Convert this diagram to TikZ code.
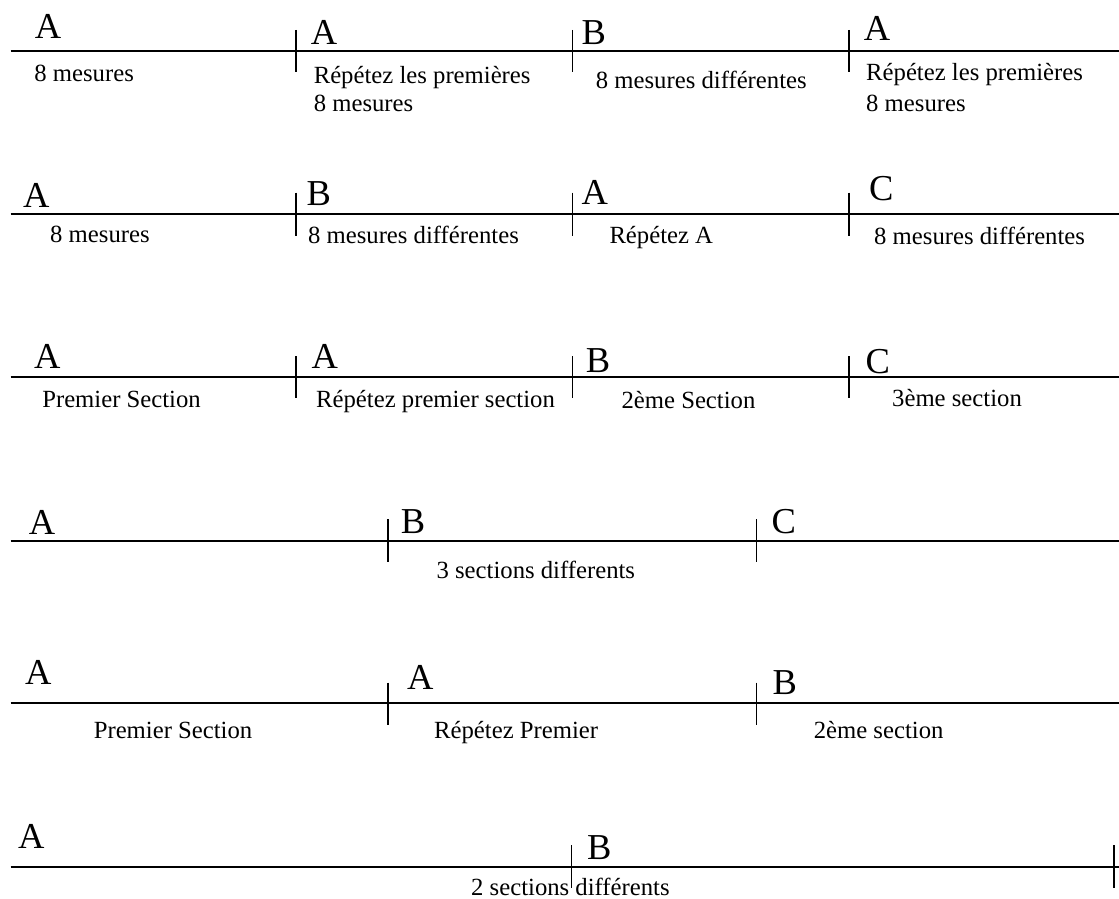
\documentclass[tikz,border=0pt]{standalone}
\usepackage{fontspec}
\setmainfont{Liberation Serif}
\begin{document}
\begin{tikzpicture}[x=1pt,y=-1pt,
  rule/.style={line width=2pt},
  tickmark/.style={line width=1.7pt},
  letter/.style={anchor=base west,inner sep=0pt,font=\fontsize{36.5}{42}\selectfont},
  lab/.style={anchor=base west,inner sep=0pt,font=\fontsize{24.7}{30}\selectfont}]
\useasboundingbox (0,0) rectangle (1119,899);

% ---------- Row 1 ----------
\coordinate (r1s) at (10.7,51);
\coordinate (r1e) at (1119,51);
\draw[rule] (r1s) -- (r1e);
\coordinate (t11a) at (295.7,30); \coordinate (t11b) at (295.7,71.7);
\coordinate (t12a) at (572.5,30); \coordinate (t12b) at (572.5,71.7);
\coordinate (t13a) at (849.3,30); \coordinate (t13b) at (849.3,71.7);
\draw[tickmark] (t11a) -- (t11b);
\draw[tickmark] (t12a) -- (t12b);
\draw[tickmark] (t13a) -- (t13b);
\node[letter] (l11) at (34.6,38.5) {A};
\node[letter] (l12) at (310.7,44.3) {A};
\node[letter] (l13) at (581.4,45) {B};
\node[letter] (l14) at (863.6,40.7) {A};
\node[lab] (d11) at (34.2,81.5) {8 mesures};
\node[lab] (d12) at (313.6,83.5) {Répétez les premières};
\node[lab] (d12b) at (313.6,111.5) {8 mesures};
\node[lab] (d13) at (595.7,88.5) {8 mesures différentes};
\node[lab] (d14) at (866,80.5) {Répétez les premières};
\node[lab] (d14b) at (866,111) {8 mesures};

% ---------- Row 2 ----------
\coordinate (r2s) at (10.7,214);
\coordinate (r2e) at (1119,214);
\draw[rule] (r2s) -- (r2e);
\coordinate (t21a) at (295.7,192.7); \coordinate (t21b) at (295.7,235.7);
\coordinate (t22a) at (572.5,192.7); \coordinate (t22b) at (572.5,235.7);
\coordinate (t23a) at (849.3,192.7); \coordinate (t23b) at (849.3,235.7);
\draw[tickmark] (t21a) -- (t21b);
\draw[tickmark] (t22a) -- (t22b);
\draw[tickmark] (t23a) -- (t23b);
\node[letter] (l21) at (23,207) {A};
\node[letter] (l22) at (306.4,205.5) {B};
\node[letter] (l23) at (581.4,204.5) {A};
\node[letter] (l24) at (869,200) {C};
\node[lab] (d21) at (50,242) {8 mesures};
\node[lab] (d22) at (307.9,243.5) {8 mesures différentes};
\node[lab] (d23) at (609.3,243) {Répétez A};
\node[lab] (d24) at (874,244.5) {8 mesures différentes};

% ---------- Row 3 ----------
\coordinate (r3s) at (10.7,377.3);
\coordinate (r3e) at (1119,377.3);
\draw[rule] (r3s) -- (r3e);
\coordinate (t31a) at (295.7,356); \coordinate (t31b) at (295.7,398.3);
\coordinate (t32a) at (572.5,356); \coordinate (t32b) at (572.5,398.3);
\coordinate (t33a) at (849.3,356); \coordinate (t33b) at (849.3,398.3);
\draw[tickmark] (t31a) -- (t31b);
\draw[tickmark] (t32a) -- (t32b);
\draw[tickmark] (t33a) -- (t33b);
\node[letter] (l31) at (34,368) {A};
\node[letter] (l32) at (311.4,368) {A};
\node[letter] (l33) at (585.7,372) {B};
\node[letter] (l34) at (865.4,373) {C};
\node[lab] (d31) at (42.1,407.5) {Premier Section};
\node[lab] (d32) at (316,407.5) {Répétez premier section};
\node[lab] (d33) at (621.4,408) {2ème Section};
\node[lab] (d34) at (892,406.5) {3ème section};

% ---------- Row 4 ----------
\coordinate (r4s) at (10.7,540.7);
\coordinate (r4e) at (1119,540.7);
\draw[rule] (r4s) -- (r4e);
\coordinate (t41a) at (388.2,519.3); \coordinate (t41b) at (388.2,561.7);
\coordinate (t42a) at (756.4,519.3); \coordinate (t42b) at (756.4,561.7);
\draw[tickmark] (t41a) -- (t41b);
\draw[tickmark] (t42a) -- (t42b);
\node[letter] (l41) at (28.6,534) {A};
\node[letter] (l42) at (400.7,533.5) {B};
\node[letter] (l43) at (771.4,533.5) {C};
\node[lab] (d41) at (436.4,578) {3 sections differents};

% ---------- Row 5 ----------
\coordinate (r5s) at (10.7,703.3);
\coordinate (r5e) at (1119,703.3);
\draw[rule] (r5s) -- (r5e);
\coordinate (t51a) at (388.2,682.7); \coordinate (t51b) at (388.2,725);
\coordinate (t52a) at (756.4,682.7); \coordinate (t52b) at (756.4,725);
\draw[tickmark] (t51a) -- (t51b);
\draw[tickmark] (t52a) -- (t52b);
\node[letter] (l51) at (25,684.5) {A};
\node[letter] (l52) at (407,689.5) {A};
\node[letter] (l53) at (772.5,694.5) {B};
\node[lab] (d51) at (93.6,738) {Premier Section};
\node[lab] (d52) at (434,738) {Répétez Premier};
\node[lab] (d53) at (813.6,738) {2ème section};

% ---------- Row 6 ----------
\coordinate (r6s) at (10.7,866.7);
\coordinate (r6e) at (1119,866.7);
\draw[rule] (r6s) -- (r6e);
\coordinate (t61a) at (571.4,845); \coordinate (t61b) at (571.4,888);
\coordinate (t62a) at (1114,845); \coordinate (t62b) at (1114,888);
\draw[tickmark] (t61a) -- (t61b);
\draw[tickmark] (t62a) -- (t62b);
\node[letter] (l61) at (17.9,848.3) {A};
\node[letter] (l62) at (587,859) {B};
\node[lab] (d61) at (471,895) {2 sections différents};
\end{tikzpicture}
\end{document}
